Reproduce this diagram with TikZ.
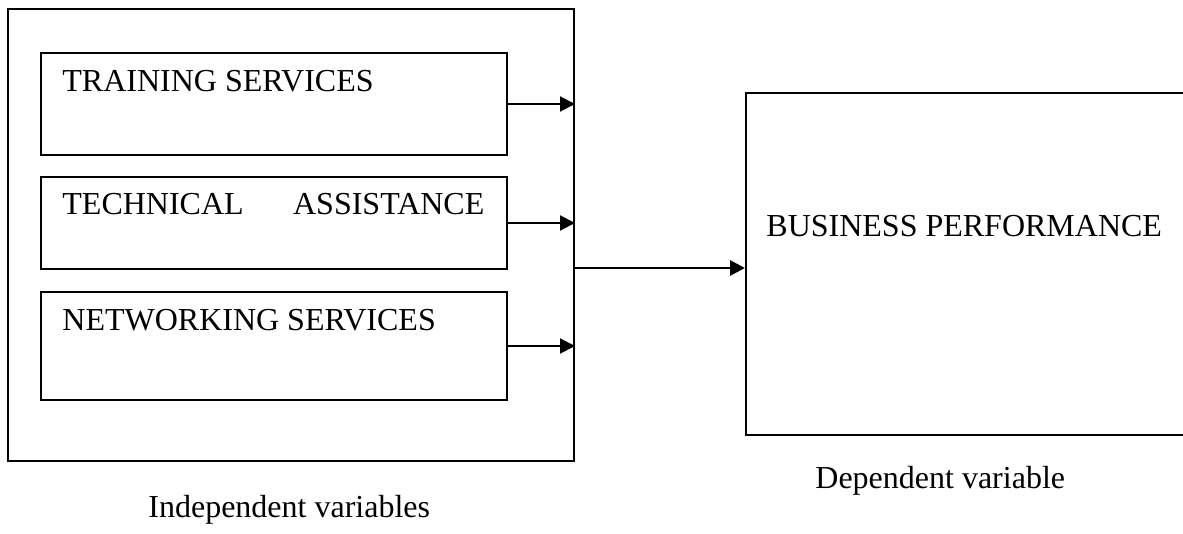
\documentclass[tikz,border=0pt]{standalone}
\usepackage{fontspec}
\setmainfont{Liberation Serif}
\usetikzlibrary{arrows.meta,positioning}

\begin{document}
\begin{tikzpicture}[
  x=0.5pt,y=-0.5pt,
  framebox/.style={draw=black,line width=1pt,inner sep=0pt,anchor=north west},
  varbox/.style={framebox,minimum width=233pt},
  boxtext/.style={anchor=base west,inner sep=0pt,font=\fontsize{16}{19}\selectfont},
  feed/.style={-{Triangle[length=7.5pt,width=7.5pt]},line width=1pt}]
  \useasboundingbox (0,0) rectangle (1183,534);

% Independent variables
  \node[framebox,minimum width=283pt,minimum height=226pt] (indep) at (7,8) {};
  \node[varbox,minimum height=51pt] (train) at (40,52) {};
  \node[varbox,minimum height=46pt] (tech) at (40,176) {};
  \node[varbox,minimum height=54pt] (net) at (40,291) {};
  \node[boxtext] (traintxt) at (62,92) {TRAINING SERVICES};
  \node[boxtext,text width=211pt] (techtxt) at (62,215) {TECHNICAL\hfill ASSISTANCE};
  \node[boxtext] (nettxt) at (62,330) {NETWORKING SERVICES};
  % the three small arrows
  \foreach \b in {train,tech,net}
    \draw[feed] (\b.east) -- (\b.east -| indep.east);

% Dependent variable
  \node[framebox,minimum width=225pt,minimum height=171pt] (perf) at (745,92) {};
  \node[boxtext] (perftxt) at (766,237) {BUSINESS PERFORMANCE};
  \coordinate (join) at (573,268);
  \draw[feed,line width=1.4pt] (join) -- (join -| perf.west);

% captions
  \node[boxtext] (indeplbl) at (148,517) {Independent variables};
  \node[boxtext] (deplbl) at (815,488) {Dependent variable};
\end{tikzpicture}
\end{document}
